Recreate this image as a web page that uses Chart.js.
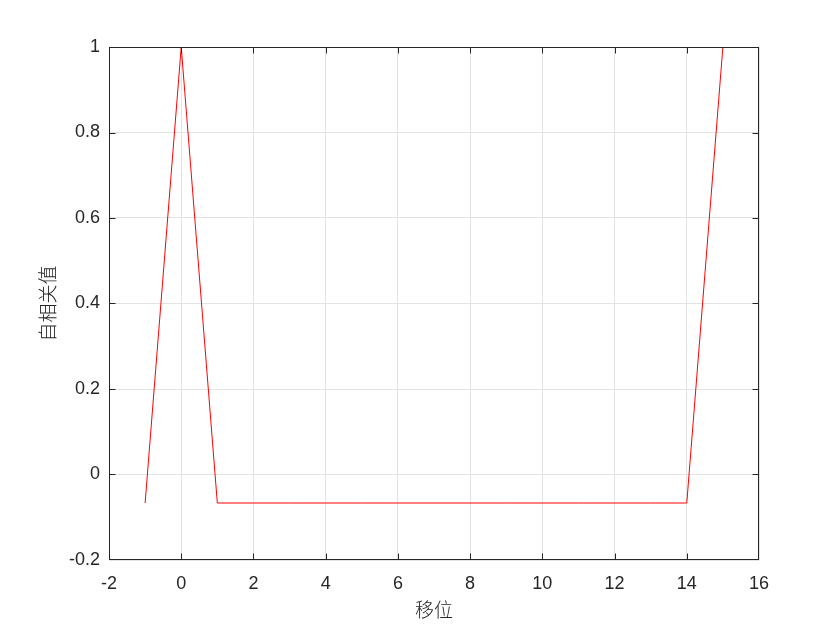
<!DOCTYPE html>
<html>
<head>
<meta charset="utf-8">
<script src="https://cdn.jsdelivr.net/npm/chart.js@4"></script>
<style>
  html, body { margin: 0; padding: 0; background: #fff; }
  #wrap { width: 840px; height: 630px; }
</style>
</head>
<body>
<div id="wrap"><canvas id="chart" width="840" height="630"></canvas></div>
<script>
'use strict';

// shift (lag) and autocorrelation values
var shifts = [-1, 0, 1, 2, 3, 4, 5, 6, 7, 8, 9, 10, 11, 12, 13, 14, 15];
var values = [-0.0667, 1, -0.0667, -0.0667, -0.0667, -0.0667, -0.0667, -0.0667,
  -0.0667, -0.0667, -0.0667, -0.0667, -0.0667, -0.0667, -0.0667, -0.0667, 1];

var xTicks = [-2, 0, 2, 4, 6, 8, 10, 12, 14, 16];
var yTicks = [-0.2, 0, 0.2, 0.4, 0.6, 0.8, 1];

var points = [];
for (var i = 0; i < shifts.length; i++) {
  points.push({x: shifts[i], y: values[i]});
}

var tickFont = {family: 'Arial, "Liberation Sans", sans-serif', size: 18};
var cjkFont = {family: '"Noto Sans CJK SC", sans-serif', size: 19, weight: 300};

// box around the plot + inward tick marks
var boxPlugin = {
  id: 'box',
  afterDraw: function (chart) {
    var c = chart.ctx, a = chart.chartArea;
    var xs = chart.scales.x, ys = chart.scales.y;
    var l = Math.round(a.left) + 0.5, r = Math.round(a.right) - 0.5;
    var t = Math.round(a.top) + 0.5, b = Math.round(a.bottom) - 0.5;
    c.save();
    c.strokeStyle = '#262626';
    c.lineWidth = 1;
    c.strokeRect(l, t, r - l, b - t);
    c.beginPath();
    xTicks.slice(1, -1).forEach(function (v) {
      var px = Math.round(xs.getPixelForValue(v)) + 0.5;
      c.moveTo(px, b); c.lineTo(px, b - 6);
      c.moveTo(px, t); c.lineTo(px, t + 6);
    });
    yTicks.slice(1, -1).forEach(function (v) {
      var py = Math.round(ys.getPixelForValue(v)) + 0.5;
      c.moveTo(l, py); c.lineTo(l + 6, py);
      c.moveTo(r, py); c.lineTo(r - 6, py);
    });
    c.stroke();
    c.restore();
  }
};

var ctx = document.getElementById('chart').getContext('2d');

var chart = new Chart(ctx, {
  type: 'line',
  data: {
    datasets: [{
      data: points,
      borderColor: '#ff0000',
      borderWidth: 1,
      pointRadius: 0,
      tension: 0,
      fill: false
    }]
  },
  options: {
    responsive: false,
    animation: false,
    layout: {padding: {left: 0, top: 47, right: 81, bottom: 0}},
    plugins: {legend: {display: false}, tooltip: {enabled: false}},
    scales: {
      x: {
        type: 'linear',
        min: -2, max: 16,
        afterBuildTicks: function (s) { s.ticks = xTicks.map(function (v) { return {value: v}; }); },
        afterFit: function (s) { s.height = 70; },
        grid: {color: '#e3e3e3', drawTicks: false},
        border: {display: false},
        ticks: {color: '#262626', font: tickFont, padding: 13, maxRotation: 0},
        title: {display: true, text: '移位', color: '#262626', font: cjkFont, padding: {top: 0, bottom: 9}}
      },
      y: {
        type: 'linear',
        min: -0.2, max: 1,
        afterBuildTicks: function (s) { s.ticks = yTicks.map(function (v) { return {value: v}; }); },
        afterFit: function (s) { s.width = 109; },
        grid: {color: '#e3e3e3', drawTicks: false},
        border: {display: false},
        ticks: {
          color: '#262626', font: tickFont, padding: 9,
          callback: function (v) { return String(Math.round(v * 10) / 10); }
        },
        title: {display: true, text: '自相关值', color: '#262626', font: cjkFont, padding: {top: 36, bottom: 0}}
      }
    }
  },
  plugins: [boxPlugin]
});
</script>
</body>
</html>
